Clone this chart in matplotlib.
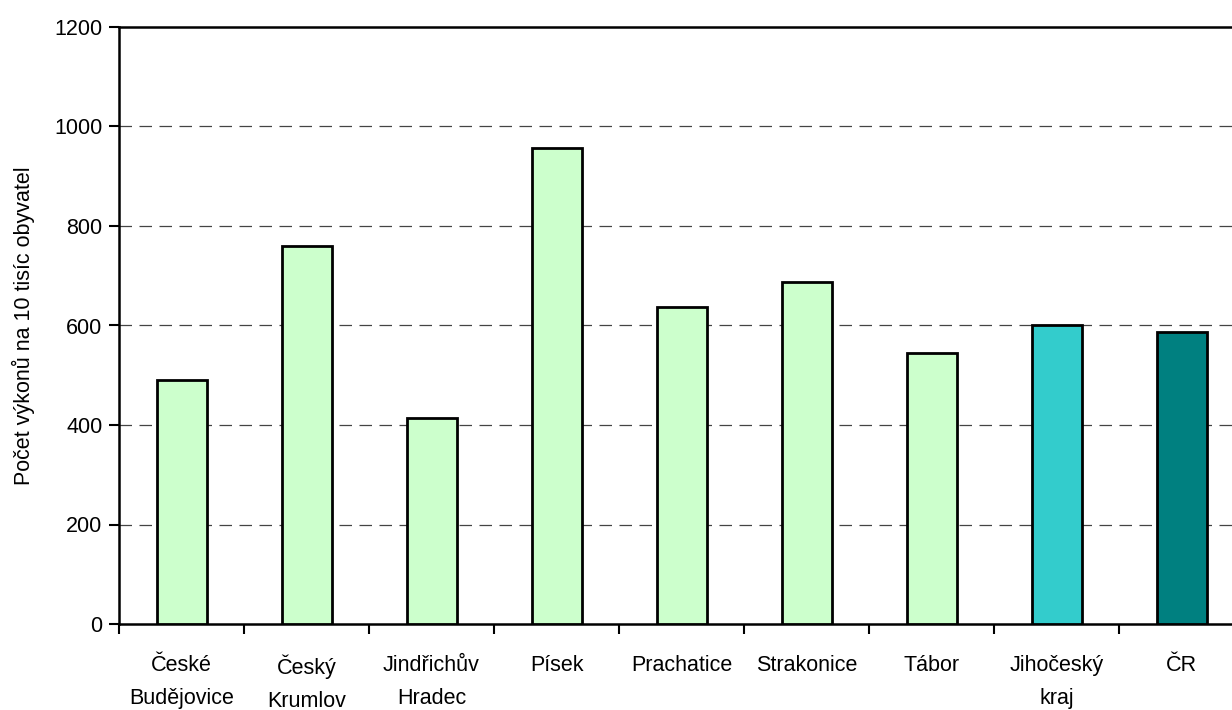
import matplotlib
matplotlib.use("Agg")
import matplotlib.pyplot as plt
import numpy as np

categories = ["České\nBudějovice", "Český\nKrumlov", "Jindřichův\nHradec", "Písek",
              "Prachatice", "Strakonice", "Tábor", "Jihočeský\nkraj", "ČR"]
values = [490, 760, 415, 957, 638, 687, 544, 600, 586]
colors = ["#CCFFCC"] * 7 + ["#33CCCC", "#008080"]

plt.rcParams['font.family'] = ['Liberation Sans', 'DejaVu Sans']

W, H = 1232, 710
fig = plt.figure(figsize=(W / 100, H / 100), dpi=100)
left, right, top, bottom = 119, 1244, 27, 624
ax = fig.add_axes([left / W, 1 - bottom / H, (right - left) / W, (bottom - top) / H])

x = np.arange(len(categories))
ax.bar(x, values, width=0.4, color=colors, edgecolor="black", linewidth=2, zorder=3)

fs = 15.5
ax.set_xlim(-0.5, len(categories) - 0.5)
ax.set_ylim(0, 1200)
ax.set_yticks(np.arange(0, 1201, 200))
ax.tick_params(axis='y', labelsize=fs, direction='out', length=7, width=1.5, pad=5)

ax.set_xticks(np.arange(-0.5, len(categories), 1.0))
ax.set_xticklabels([])
ax.set_xticks(x, minor=True)
ax.set_xticklabels(categories, minor=True, fontsize=fs, linespacing=1.75)
ax.tick_params(axis='x', which='minor', length=0, pad=22)
ax.tick_params(axis='x', which='major', direction='out', length=7, width=1.5)

for yv in range(200, 1200, 200):
    ax.axhline(yv, color="#444444", linestyle=(0, (10, 6)), linewidth=0.9, zorder=1)

for s in ax.spines.values():
    s.set_linewidth(1.8)
    s.set_color("black")

ax.set_ylabel("Počet výkonů na 10 tisíc obyvatel", fontsize=fs, labelpad=14)

fig.savefig("out.png", dpi=100)
